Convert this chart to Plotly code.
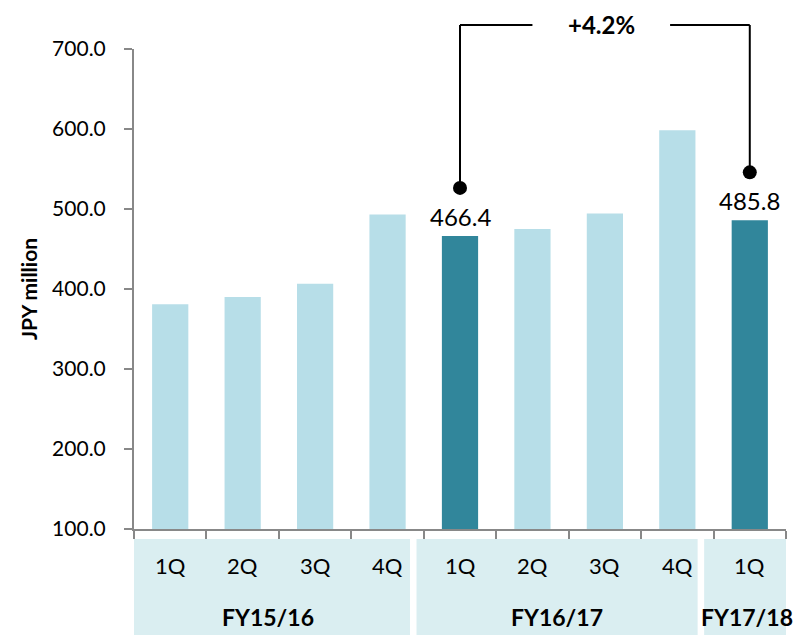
import plotly.graph_objects as go

# Quarterly values, JPY million
quarters = ["1Q", "2Q", "3Q", "4Q", "1Q", "2Q", "3Q", "4Q", "1Q"]
values = [381.0, 390.0, 406.5, 493.0, 466.4, 475.0, 494.5, 598.5, 485.8]
highlight = [False, False, False, False, True, False, False, False, True]
fiscal_years = ["FY15/16", "FY16/17", "FY17/18"]
fy_spans = [(-0.61, 3.31), (3.40, 7.28), (7.37, 8.75)]
y_ticks = [100, 200, 300, 400, 500, 600, 700]

LIGHT = "#b7dee8"
DARK = "#31869b"
PANEL = "#daeef1"
FONT = "Lato, 'Open Sans', sans-serif"

x = list(range(len(values)))
colors = [DARK if h else LIGHT for h in highlight]

fig = go.Figure()
fig.add_trace(go.Bar(
    x=x, y=values, width=0.5, marker=dict(color=colors, line=dict(width=0)),
    showlegend=False, hoverinfo="skip",
))

y0, y1 = 100, 700
yspan = y1 - y0

def to_paper(v):
    return (v - y0) / yspan

shapes = []
annotations = []

# Category panels under the axis
for name, (a, b) in zip(fiscal_years, fy_spans):
    shapes.append(dict(type="rect", xref="x", yref="paper", x0=a, x1=b,
                       y0=-0.23, y1=-0.021, fillcolor=PANEL, line=dict(width=0),
                       layer="below"))
    annotations.append(dict(x=(a + min(b, 8.55)) / 2, y=-0.183, xref="x", yref="paper",
                            yanchor="middle", text="<b>%s</b>" % name, showarrow=False,
                            font=dict(family=FONT, size=23, color="#000")))

for i, q in enumerate(quarters):
    annotations.append(dict(x=i, y=-0.075, xref="x", yref="paper", yanchor="middle",
                            text=q, showarrow=False,
                            font=dict(family=FONT, size=22, color="#000")))

# Value labels and growth bracket between highlighted bars
hi = [i for i, h in enumerate(highlight) if h]
a_i, b_i = hi[0], hi[-1]
top = 1.05
dot_off = 60
for i in hi:
    annotations.append(dict(x=i, y=values[i], xref="x", yref="y", text="%.1f" % values[i],
                            showarrow=False, yanchor="bottom", yshift=3,
                            font=dict(family=FONT, size=24, color="#000")))
    py = to_paper(values[i] + dot_off)
    shapes.append(dict(type="line", xref="x", yref="paper", x0=i, x1=i, y0=py, y1=top,
                       line=dict(color="#000", width=2)))
    shapes.append(dict(type="circle", xref="x", yref="paper", xsizemode="pixel",
                       ysizemode="pixel", xanchor=i, yanchor=py, x0=-7, x1=7, y0=-7, y1=7,
                       fillcolor="#000", line=dict(width=0)))

shapes.append(dict(type="line", xref="x", yref="paper", x0=a_i, x1=5.0, y0=top, y1=top,
                   line=dict(color="#000", width=2)))
shapes.append(dict(type="line", xref="x", yref="paper", x0=6.9, x1=b_i, y0=top, y1=top,
                   line=dict(color="#000", width=2)))
growth = (values[b_i] / values[a_i] - 1) * 100
annotations.append(dict(x=5.95, y=top, xref="x", yref="paper", yanchor="middle",
                        text="<b>%+.1f%%</b>" % growth, showarrow=False,
                        font=dict(family=FONT, size=24, color="#000")))

annotations.append(dict(x=0, y=0.5, xref="paper", yref="paper", xshift=-106,
                        xanchor="center", yanchor="middle",
                        text="<b>JPY million</b>", textangle=-90, showarrow=False,
                        font=dict(family=FONT, size=21, color="#000")))

fig.update_layout(
    width=806, height=635,
    margin=dict(l=134, r=20, t=49, b=106),
    plot_bgcolor="white", paper_bgcolor="white",
    shapes=shapes, annotations=annotations,
    xaxis=dict(range=[-0.5, 8.5], showgrid=False, zeroline=False, showline=True,
               linecolor="#888", linewidth=2, ticks="outside", ticklen=8,
               tickcolor="#888", tickwidth=2,
               tickvals=[i - 0.5 for i in range(len(values) + 1)],
               showticklabels=False, fixedrange=True),
    yaxis=dict(range=[y0, y1], tickvals=y_ticks, ticktext=["%.1f" % t for t in y_ticks],
               showgrid=False, zeroline=False, showline=True, linecolor="#888",
               linewidth=2, ticks="outside", ticklen=8, tickcolor="#888", tickwidth=2,
               ticklabelstandoff=14,
               tickfont=dict(family=FONT, size=21, color="#000")),
)

fig.write_html("out.html")
